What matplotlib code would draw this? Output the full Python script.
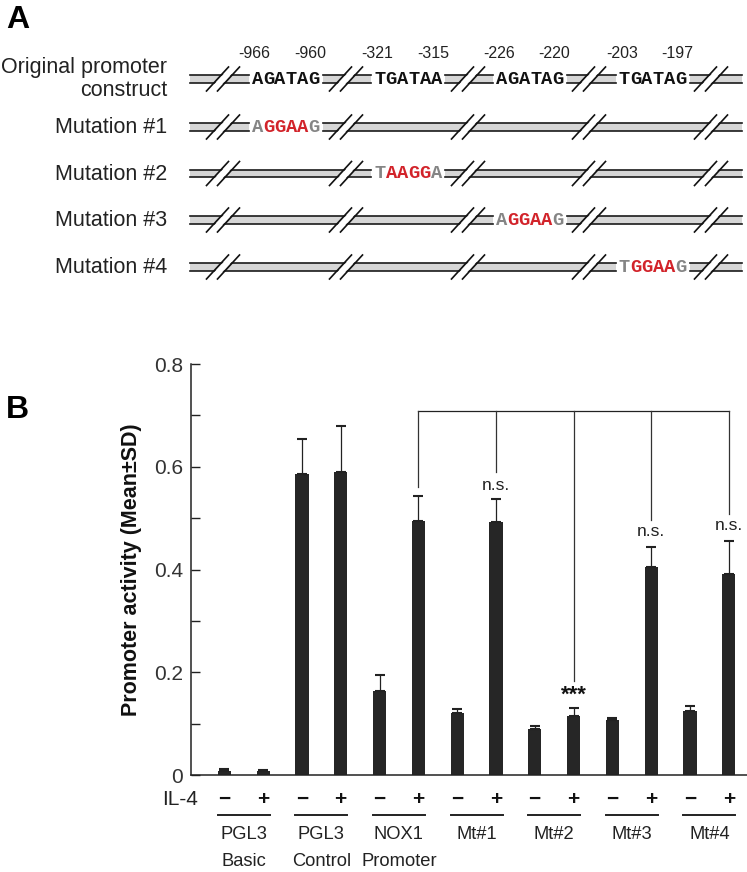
import numpy as np
import matplotlib
matplotlib.use('Agg')
import matplotlib.pyplot as plt
from matplotlib.transforms import blended_transform_factory

plt.rcParams['font.family'] = ['Liberation Sans', 'DejaVu Sans']

# panel A: promoter constructs
row_labels = ['Mutation #1', 'Mutation #2', 'Mutation #3', 'Mutation #4']
site_seqs = ['AGATAG', 'TGATAA', 'AGATAG', 'TGATAG']
site_start = ['-966', '-321', '-226', '-203']
site_end = ['-960', '-315', '-220', '-197']
mut_seqs = ['AGGAAG', 'TAAGGA', 'AGGAAG', 'TGGAAG']

# panel B: luciferase data
groups = ['PGL3', 'PGL3', 'NOX1', 'Mt#1', 'Mt#2', 'Mt#3', 'Mt#4']
groups2 = ['Basic', 'Control', 'Promoter', '', '', '', '']
il4_signs = ['\u2212', '+']
minus_vals = [0.007, 0.585, 0.164, 0.120, 0.089, 0.107, 0.125]
minus_err = [0.004, 0.069, 0.031, 0.008, 0.006, 0.004, 0.010]
plus_vals = [0.007, 0.590, 0.495, 0.493, 0.115, 0.405, 0.391]
plus_err = [0.002, 0.090, 0.048, 0.044, 0.016, 0.039, 0.064]

# comparison bracket (NOX1 + vs mutants +)
stat_groups = [2, 3, 4, 5, 6]
stat_line_end = [0.561, 0.590, 0.182, 0.496, 0.509]
stat_text = ['', 'n.s.', '***', 'n.s.', 'n.s.']
stat_text_y = [0, 0.564, 0.156, 0.473, 0.485]
bracket_y = 0.708

fig = plt.figure(figsize=(7.47, 8.72), dpi=100)

# overlay in pixel coordinates for the schematic and labels
ax_a = fig.add_axes([0, 0, 1, 1])
ax_a.set_xlim(0, 747)
ax_a.set_ylim(872, 0)
ax_a.axis('off')

rows_y = [79, 127, 173.5, 220, 267]
site_x = [285.5, 408.3, 530, 652.7]
break_x = [223, 346, 468, 589, 711]
x0, x1 = 190, 742
cw = 11.3
gap = 37
red = '#d2232a'
grey = '#858585'


def band(y, gaps):
    start = x0
    segs = []
    for g in sorted(gaps):
        segs.append((start, g - gap))
        start = g + gap
    segs.append((start, x1))
    for a, b in segs:
        ax_a.fill_between([a, b], y - 3.6, y + 3.6, color='#d6d6d6', lw=0)
        ax_a.plot([a, b], [y - 3.8, y - 3.8], color='#1a1a1a', lw=1.2)
        ax_a.plot([a, b], [y + 3.8, y + 3.8], color='#1a1a1a', lw=1.2)
    for bx in break_x:
        c = bx - 5.5
        ax_a.fill([c + 5 * 11 / 12 + 1.5, c + 5 * 11 / 12 + 9.5, c - 5 * 11 / 12 + 9.5, c - 5 * 11 / 12 + 1.5],
                  [y - 5, y - 5, y + 5, y + 5], color='white', lw=0, zorder=3)
        for off in (0, 11):
            ax_a.plot([c + off - 11, c + off + 11], [y + 12, y - 12], color='#111', lw=1.2, zorder=4)


def seq(cx, y, s, colors):
    for i, ch in enumerate(s):
        ax_a.text(cx + (i - 2.5) * cw, y + 5, ch, ha='center', va='baseline',
                  family='Liberation Mono', weight='bold', size=13.5, color=colors[i])


ax_a.text(6, 28, 'A', weight='bold', size=23, va='baseline')
ax_a.text(6, 418, 'B', weight='bold', size=23, va='baseline')

# original row
ax_a.text(167, 73.5, 'Original promoter', ha='right', va='baseline', size=15.5, color='#222')
ax_a.text(167, 96, 'construct', ha='right', va='baseline', size=15.5, color='#222')
band(rows_y[0], site_x)
for k in range(4):
    seq(site_x[k], rows_y[0], site_seqs[k], ['#111'] * 6)
    ax_a.text(site_x[k] - 31, 57.5, site_start[k], ha='center', va='baseline', size=11.5, color='#222')
    ax_a.text(site_x[k] + 24.5, 57.5, site_end[k], ha='center', va='baseline', size=11.5, color='#222')

# mutation rows
for k in range(4):
    y = rows_y[k + 1]
    ax_a.text(167, y + 6, row_labels[k], ha='right', va='baseline', size=15.5, color='#222')
    band(y, [site_x[k]])
    seq(site_x[k], y, mut_seqs[k], [grey, red, red, red, red, grey])

# panel B
ax = fig.add_axes([191 / 747, 97 / 872, 556 / 747, 411 / 872])
n = len(groups)
xm = np.arange(n) * 2
xp = xm + 1
w = 0.34
ax.bar(xm, minus_vals, w, color='#262626', zorder=2)
ax.bar(xp, plus_vals, w, color='#262626', zorder=2)
ax.errorbar(xm, minus_vals, yerr=[np.zeros(n), minus_err], fmt='none', ecolor='#222',
            elinewidth=0.9, capsize=3.5, capthick=1.5, zorder=3)
ax.errorbar(xp, plus_vals, yerr=[np.zeros(n), plus_err], fmt='none', ecolor='#222',
            elinewidth=0.9, capsize=3.5, capthick=1.5, zorder=3)

ax.set_xlim(-0.858, 13.47)
ax.set_ylim(0, 0.8)
ax.set_yticks([0, 0.2, 0.4, 0.6, 0.8])
ax.set_yticklabels(['0', '0.2', '0.4', '0.6', '0.8'])
ax.set_yticks([0.1, 0.3, 0.5, 0.7], minor=True)
ax.set_xticks([])
ax.tick_params(axis='y', which='both', direction='in', length=6.5, width=1, color='#222',
               labelsize=15, labelcolor='#333', pad=5.5)
for s in ['top', 'right']:
    ax.spines[s].set_visible(False)
for s in ['left', 'bottom']:
    ax.spines[s].set_linewidth(1.1)
    ax.spines[s].set_color('#222')

fig.text(132 / 747, 1 - 570 / 872, 'Promoter activity (Mean\u00b1SD)', rotation=90,
         ha='center', va='center', weight='bold', size=15.5, color='#111')

# bracket
ax.plot([xp[stat_groups[0]], xp[stat_groups[-1]]], [bracket_y, bracket_y], color='#222', lw=0.9)
for g, end, t, ty in zip(stat_groups, stat_line_end, stat_text, stat_text_y):
    ax.plot([xp[g], xp[g]], [bracket_y, end], color='#333', lw=0.9)
    if t == '***':
        ax.text(xp[g], ty, t, ha='center', va='center', size=16, weight='bold', color='#111')
    elif t:
        ax.text(xp[g], ty, t, ha='center', va='center', size=12.5, color='#222')

# labels under the axis
trans = blended_transform_factory(ax.transData, ax_a.transData)
ax_a.text(198, 805, 'IL-4', ha='right', va='baseline', size=15, color='#222')
for i in range(n):
    for j, xx in enumerate([xm[i], xp[i]]):
        ax.text(xx, 805, il4_signs[j], transform=trans, ha='center', va='baseline',
                weight='bold', size=15, color='#111', clip_on=False)
    c = (xm[i] + xp[i]) / 2
    ax.plot([c - 0.67, c + 0.67], [815, 815], transform=trans, color='#222', lw=1.4, clip_on=False)
    ax.text(c, 839, groups[i], transform=trans, ha='center', va='baseline', size=13.2, color='#222')
    if groups2[i]:
        ax.text(c, 866, groups2[i], transform=trans, ha='center', va='baseline', size=13.2, color='#222')

fig.savefig('out.png', dpi=100)
